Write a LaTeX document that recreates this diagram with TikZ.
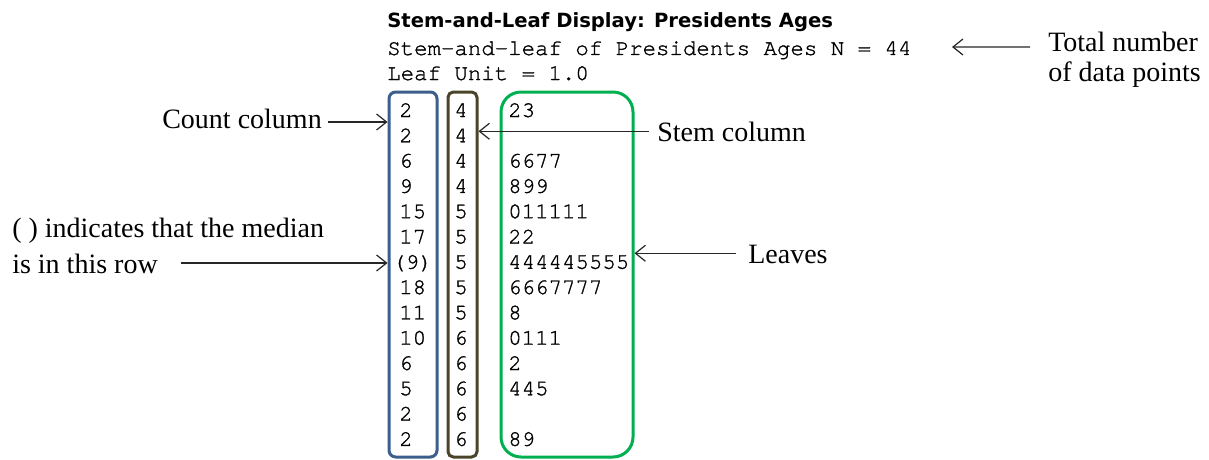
\documentclass[tikz,border=0pt]{standalone}
\usepackage{fontspec}
\setmainfont{Liberation Serif}
\setmonofont[FakeBold=1.2]{TeX Gyre Cursor}
\setsansfont{DejaVu Sans}
\usepackage{tikz}
\usetikzlibrary{positioning}
\usetikzlibrary{arrows.meta}
\definecolor{countblue}{RGB}{59,94,140}
\definecolor{stemolive}{RGB}{74,69,42}
\definecolor{leafgreen}{RGB}{0,176,80}
\tikzstyle{note} = [font=\fontsize{21}{22}\selectfont, inner sep=0pt]
\tikzstyle{mono} = [font=\ttfamily\fontsize{16.8}{20}\selectfont, inner sep=0pt]
\tikzstyle{colbox} = [draw, line width=2.25pt, inner sep=0pt, minimum height=273.75pt]
\tikzstyle{pointer} = [-{Straight Barb[length=7.5pt,width=12pt]}, line width=0.9pt, draw=black!85]

\begin{document}
\begin{tikzpicture}[x=0.75pt, y=-0.75pt]
  \useasboundingbox (0,0) rectangle (1209,460);
  % header
  \node[anchor=base west, inner sep=0pt, font=\sffamily\bfseries\fontsize{14.7}{17}\selectfont] (title) at (387,28) {Stem-and-Leaf Display: Presidents Ages};
  \node[mono, anchor=base west] (head) at (387,55) {Stem-and-leaf of Presidents Ages N = 44};
  \node[mono, anchor=base west] (unit) at (387,80) {Leaf Unit = 1.0};
  % columns
  \node[colbox, draw=countblue, rounded corners=5pt, minimum width=36pt] (cbox) at (413,274.5) {};
  \node[colbox, draw=stemolive, rounded corners=4pt, minimum width=21.75pt] (sbox) at (462.5,274.5) {};
  \node[colbox, draw=leafgreen, rounded corners=15pt, minimum width=99pt] (lbox) at (567,274.5) {};
  % rows: count / stem / leaves
  \foreach \cx/\cnt/\stm/\lf [count=\i] in {399/2/4/23, 399/2/4/{}, 399/6/4/6677,
      399/9/4/899, 399/15/5/011111, 399/17/5/22, 392/{(9)}/5/444445555,
      399/18/5/6667777, 399/11/5/8, 399/10/6/0111, 399/6/6/2, 399/5/6/445,
      399/2/6/{}, 399/2/6/89} {
    \node[mono, anchor=base west] (c\i) at (\cx,{117+25.3*(\i-1)}) {\cnt};
    \node[mono, anchor=base] (s\i) at (461,{117+25.3*(\i-1)}) {\stm};
    \node[mono, anchor=base west] (l\i) at (508,{117+25.3*(\i-1)}) {\lf};
  }
  % notes
  \node[note, anchor=base east] (cntnote) at (322,128) {Count column};
  \node[note, anchor=base west] (med1) at (12,237) {( ) indicates that the median};
  \node[note, anchor=base west] (med2) at (12,273) {is in this row};
  \node[note, anchor=base west] (stemnote) at (657,141) {Stem column};
  \node[note, anchor=base west] (leafnote) at (748,263) {Leaves};
  \node[note, anchor=base west] (tot1) at (1048,52) {Total number};
  \node[note, anchor=base west] (tot2) at (1048,82) {of data points};
  \coordinate (tothead) at (952,47);

  % arrows
  \draw[pointer, shorten <=4.5pt] ([yshift=4.5pt]cntnote.base east) -- ([yshift=4.5pt]cntnote.base east -| cbox.west);
  \draw[pointer, shorten <=17pt] ([yshift=7.5pt]med2.base east) -- ([yshift=7.5pt]med2.base east -| cbox.west);
  \draw[pointer, shorten <=6pt] ([yshift=7.3pt]stemnote.base west) -- ([yshift=7.3pt]stemnote.base west -| sbox.east);
  \draw[pointer, shorten <=9pt] ([yshift=7.3pt]leafnote.base west) -- ([yshift=7.3pt]leafnote.base west -| lbox.east);
  \draw[pointer, shorten <=13.5pt] ([yshift=3.8pt]tot1.base west) -- (tothead);
\end{tikzpicture}
\end{document}
